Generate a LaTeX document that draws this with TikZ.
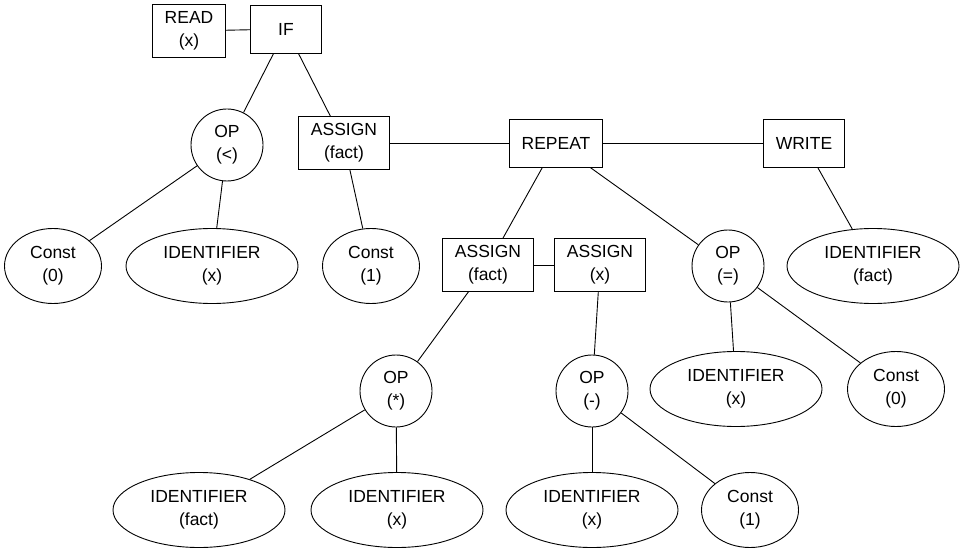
\documentclass[tikz,border=0pt]{standalone}
\usepackage{fontspec}
\setmainfont{Liberation Sans}
\usetikzlibrary{shapes.geometric}
\tikzstyle{ast}=[x=1pt, y=-1pt, line width=0.9pt, font=\fontsize{17.5}{23}\selectfont]
\tikzstyle{stmt}=[rectangle, draw, align=center, inner xsep=12pt, inner ysep=7pt, minimum width=71pt, minimum height=48pt]
\tikzstyle{op}=[circle, draw, align=center, inner sep=0pt, minimum size=72pt]
\tikzstyle{cst}=[ellipse, draw, align=center, inner sep=0pt, minimum width=97pt, minimum height=75pt]
\tikzstyle{ident}=[ellipse, draw, align=center, inner sep=0pt, minimum width=172pt, minimum height=75pt]
\tikzstyle{edge}=[-]
\begin{document}
\begin{tikzpicture}[ast]
	\useasboundingbox (0,0) rectangle (965,553);
	
	\draw (189,31) node[stmt] (read) {READ\\(x)};
	\draw (286,29) node[stmt] (if) {IF};
	\draw[edge] (read) -- (if);
	%%
	\draw (227,145) node[op] (lt) {OP\\(<)};
	\draw (53,266) node[cst] (c0) {Const\\(0)};
	\draw (212,266) node[ident] (idx1) {IDENTIFIER\\(x)};
	\draw[edge] (if) -- (lt);
	\draw[edge] (lt) -- (c0);
	\draw[edge] (lt) -- (idx1);
	%%
	\draw (344,143) node[stmt] (asg1) {ASSIGN\\(fact)};
	\draw (371,266) node[cst] (c1) {Const\\(1)};
	\draw[edge] (if) -- (asg1);
	\draw[edge] (asg1) -- (c1);
	%%%%%%
	\draw (556,143) node[stmt] (rep) {REPEAT};
	\draw (804,143) node[stmt] (wr) {WRITE};
	\draw (873,266) node[ident] (idf1) {IDENTIFIER\\(fact)};
	\draw[edge] (asg1) -- (rep);
	\draw[edge] (rep) -- (wr);
	\draw[edge] (wr) -- (idf1);
	%%
	\draw (488,265) node[stmt] (asg2) {ASSIGN\\(fact)};
	\draw (600,265) node[stmt] (asg3) {ASSIGN\\(x)};
	\draw[edge] (rep) -- (asg2);
	\draw[edge] (asg2) -- (asg3);
	%%
	\draw (728,266) node[op] (eq) {OP\\(=)};
	\draw (736,389) node[ident] (idx2) {IDENTIFIER\\(x)};
	\draw (896,389) node[cst] (c2) {Const\\(0)};
	\draw[edge] (rep) -- (eq);
	\draw[edge] (eq) -- (idx2);
	\draw[edge] (eq) -- (c2);
	%%%%%%
	\draw (396,391) node[op] (mul) {OP\\(*)};
	\draw (199,510) node[ident] (idf2) {IDENTIFIER\\(fact)};
	\draw (397,510) node[ident] (idx3) {IDENTIFIER\\(x)};
	\draw[edge] (asg2) -- (mul);
	\draw[edge] (mul) -- (idf2);
	\draw[edge] (mul) -- (idx3);
	%%
	\draw (592,391) node[op] (sub) {OP\\(-)};
	\draw (592,510) node[ident] (idx4) {IDENTIFIER\\(x)};
	\draw (750,510) node[cst] (c3) {Const\\(1)};
	\draw[edge] (asg3) -- (sub);
	\draw[edge] (sub) -- (idx4);
	\draw[edge] (sub) -- (c3);
\end{tikzpicture}
\end{document}
